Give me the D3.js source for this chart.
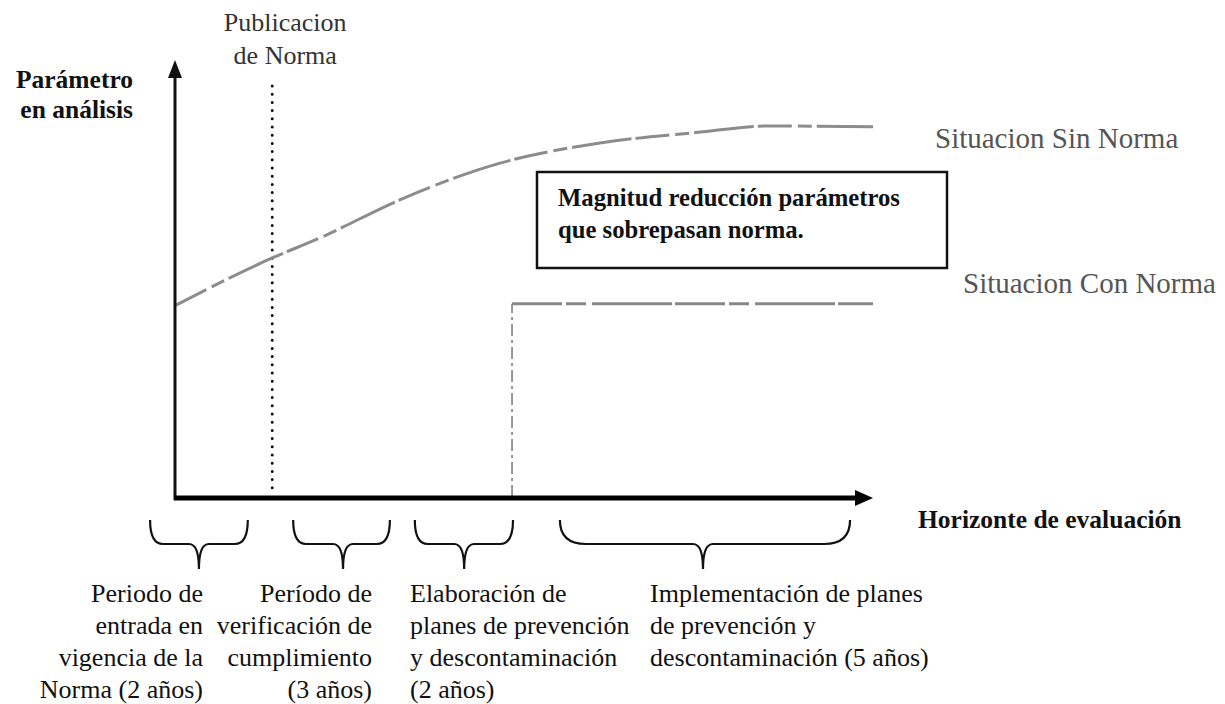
<!DOCTYPE html>
<html>
<head>
<meta charset="utf-8">
<script src="https://d3js.org/d3.v7.min.js"></script>
<style>
  body { margin: 0; background: #fff; }
  text { font-family: "Liberation Serif", "Times New Roman", serif; }
</style>
</head>
<body>
<div id="chart"></div>
<script>
    // horizonte en años (aprox.)
    const horizonte = [0, 14];
    const parametro = [0, 100];

    // Situación sin norma: curva creciente que se aplana
    const sinNormaT = [0.02, 1.95, 2.91, 4.51, 6.52, 8.52, 10.53, 11.87, 14];
    const sinNormaV = [43.9, 54.7, 59.3, 68.0, 76.4, 81.0, 83.5, 84.9, 84.7];

    // Situación con norma: escalón tras elaboración de planes
    const conNormaT = [6.76, 6.76, 14];
    const conNormaV = [0, 44.2, 44.2];

    const publicacionT = 1.95;

    // llaves de los periodos
    const periodStart = [-0.5, 2.37, 4.81, 7.72];
    const periodEnd = [1.46, 4.31, 6.78, 13.54];
    const periodTip = [0.48, 3.37, 5.80, 10.59];
    const periodLabels = [
        ["Periodo de", "entrada en", "vigencia de  la", "Norma (2 años)"],
        ["Período de", "verificación de", "cumplimiento", "(3 años)"],
        ["Elaboración de", "planes de prevención", "y descontaminación", "(2 años)"],
        ["Implementación de planes", "de prevención y", "descontaminación (5 años)"]
    ];

    const yTitle = ["Parámetro", "en análisis"];
    const xTitle = "Horizonte de evaluación";
    const pubLabel = ["Publicacion", "de Norma"];
    const boxLabel = ["Magnitud reducción parámetros", "que sobrepasan norma."];
    const sinNormaLabel = "Situacion Sin Norma";
    const conNormaLabel = "Situacion Con Norma";

    const width = 1225, height = 704;

    const svg = d3.select("#chart")
        .append("svg")
        .attr("width", width)
        .attr("height", height);

    const x = d3.scaleLinear().domain(horizonte).range([175, 873]);
    const y = d3.scaleLinear().domain(parametro).range([497, 60]);

    const line = d3.line()
        .x(d => x(d[0]))
        .y(d => y(d[1]));

    // linea punteada publicacion
    svg.append("line")
        .attr("x1", x(publicacionT)).attr("x2", x(publicacionT))
        .attr("y1", 86).attr("y2", y(0) - 4)
        .attr("stroke", "#111")
        .attr("stroke-width", 3)
        .attr("stroke-linecap", "round")
        .attr("stroke-dasharray", "0,8.2");

    // situacion sin norma
    svg.append("path")
        .datum(sinNormaT.map((t, i) => [t, sinNormaV[i]]))
        .attr("d", line.curve(d3.curveMonotoneX))
        .attr("fill", "none")
        .attr("stroke", "#8c8c8c")
        .attr("stroke-width", 3)
        .attr("stroke-dasharray", "34,6,14,5,60,4");

    // situacion con norma: vertical discontinua + horizontal
    const conPts = conNormaT.map((t, i) => [t, conNormaV[i]]);
    svg.append("line")
        .attr("x1", x(conPts[0][0])).attr("x2", x(conPts[1][0]))
        .attr("y1", y(conPts[0][1])).attr("y2", y(conPts[1][1]))
        .attr("stroke", "#777")
        .attr("stroke-width", 1.5)
        .attr("stroke-dasharray", "12,4,3,4");
    svg.append("path")
        .datum(conPts.slice(1))
        .attr("d", line.curve(d3.curveLinear))
        .attr("fill", "none")
        .attr("stroke", "#888")
        .attr("stroke-width", 3)
        .attr("stroke-dasharray", "50,4,20,6,80,3");

    // ejes con flechas
    const axisG = svg.append("g");
    axisG.append("line")
        .attr("x1", x(0)).attr("x2", x(0))
        .attr("y1", y(0) + 3).attr("y2", y(100) + 14)
        .attr("stroke", "#111").attr("stroke-width", 3);
    axisG.append("path")
        .attr("d", `M${x(0)},${y(100)} L${x(0) - 7},${y(100) + 18} L${x(0) + 7},${y(100) + 18} Z`)
        .attr("fill", "#111");

    axisG.append("line")
        .attr("x1", x(0) - 1).attr("x2", x(14) - 12)
        .attr("y1", y(0) + 1).attr("y2", y(0) + 1)
        .attr("stroke", "#000").attr("stroke-width", 5);
    axisG.append("path")
        .attr("d", `M${x(14)},${y(0) + 1} L${x(14) - 18},${y(0) - 7} L${x(14) - 18},${y(0) + 9} Z`)
        .attr("fill", "#000");

    // recuadro
    svg.append("rect")
        .attr("x", 537).attr("y", 172)
        .attr("width", 410).attr("height", 96)
        .attr("fill", "none")
        .attr("stroke", "#111")
        .attr("stroke-width", 2.5);

    svg.append("g")
        .selectAll("text")
        .data(boxLabel)
        .join("text")
        .attr("x", 558)
        .attr("y", (d, i) => 206 + i * 32)
        .attr("font-size", 24.7)
        .attr("font-weight", "bold")
        .attr("fill", "#111")
        .text(d => d);

    // titulo eje y
    svg.append("g")
        .selectAll("text")
        .data(yTitle)
        .join("text")
        .attr("x", 133)
        .attr("y", (d, i) => 88 + i * 30)
        .attr("text-anchor", "end")
        .attr("font-size", 25.5)
        .attr("font-weight", "bold")
        .attr("fill", "#111")
        .text(d => d);

    // titulo eje x
    svg.append("text")
        .attr("x", 918)
        .attr("y", 528)
        .attr("font-size", 25.5)
        .attr("font-weight", "bold")
        .attr("fill", "#111")
        .text(xTitle);

    // publicacion de norma
    svg.append("g")
        .selectAll("text")
        .data(pubLabel)
        .join("text")
        .attr("x", x(publicacionT) + 13)
        .attr("y", (d, i) => 31 + i * 33)
        .attr("text-anchor", "middle")
        .attr("font-size", 26)
        .attr("fill", "#333")
        .text(d => d);

    // etiquetas de situacion
    svg.append("text")
        .attr("x", 935).attr("y", 148)
        .attr("font-size", 29)
        .attr("fill", "#555")
        .text(sinNormaLabel);
    svg.append("text")
        .attr("x", 963).attr("y", 293)
        .attr("font-size", 29)
        .attr("fill", "#555")
        .text(conNormaLabel);

    // llaves
    function bracePath(x0, xm, x1, r) {
        const top = 520, yh = 544, tip = 569, r2 = 10;
        return `M${x0},${top} Q${x0},${yh} ${x0 + r},${yh} L${xm - r2},${yh} Q${xm},${yh} ${xm},${tip}` +
               ` Q${xm},${yh} ${xm + r2},${yh} L${x1 - r},${yh} Q${x1},${yh} ${x1},${top}`;
    }
    svg.append("g")
        .selectAll("path")
        .data(periodStart.map((s, i) => ({ s, m: periodTip[i], e: periodEnd[i], big: i === 3 })))
        .join("path")
        .attr("d", d => bracePath(x(d.s), x(d.m), x(d.e), d.big ? 26 : 13))
        .attr("fill", "none")
        .attr("stroke", "#111")
        .attr("stroke-width", 2.2);

    // etiquetas de periodos
    const labelAnchor = [
        { x: 203, anchor: "end" },
        { x: 372, anchor: "end" },
        { x: 410, anchor: "start" },
        { x: 650, anchor: "start" }
    ];
    svg.append("defs").append("clipPath")
        .attr("id", "clip2")
        .append("rect")
        .attr("x", 207).attr("y", 560).attr("width", 200).attr("height", 144);

    periodLabels.forEach((lines, k) => {
        const g = svg.append("g");
        if (k === 1) g.attr("clip-path", "url(#clip2)");
        g.selectAll("text")
            .data(lines)
            .join("text")
            .attr("x", labelAnchor[k].x)
            .attr("y", (d, i) => 602 + i * 32)
            .attr("text-anchor", labelAnchor[k].anchor)
            .attr("font-size", 26)
            .attr("fill", "#111")
            .text(d => d);
    });
</script>
</body>
</html>
